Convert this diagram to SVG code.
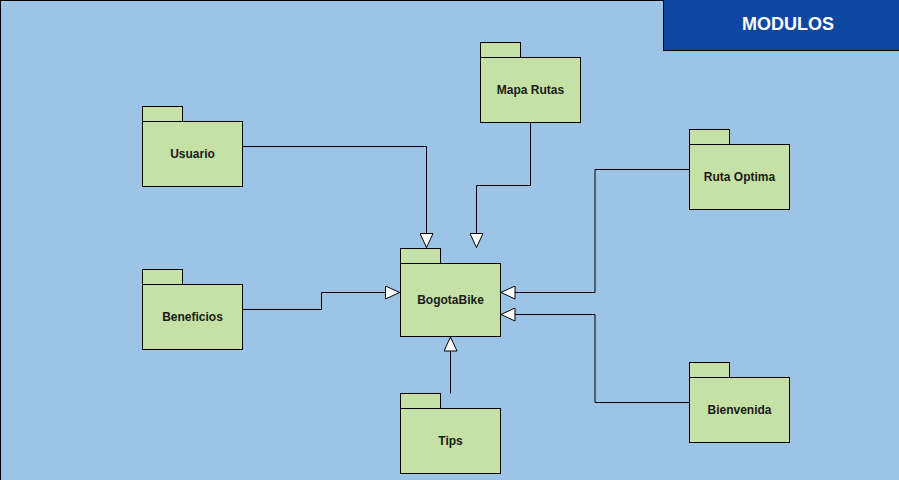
<svg xmlns="http://www.w3.org/2000/svg" width="899" height="480" viewBox="0 0 899 480">
<defs>
<style>
.pkg{fill:#C5E1A5;stroke:#000;stroke-width:1}
.lbl{font-family:"Liberation Sans",Arial,sans-serif;font-size:12px;font-weight:bold;fill:#1a1a1a;text-anchor:middle}
.edge{fill:none;stroke:#000;stroke-width:1;marker-end:url(#tri)}
</style>
<marker id="tri" viewBox="0 0 15 14" refX="15" refY="7" markerWidth="15" markerHeight="14" markerUnits="userSpaceOnUse" orient="auto">
<path d="M0.5,0.5 L14.5,7 L0.5,13.5 Z" fill="#fff" stroke="#000" stroke-width="1"/>
</marker>
</defs>
<rect x="0.5" y="0.5" width="900" height="481" fill="#9BC4E7" stroke="#000" stroke-width="1"/>
<g id="header">
<rect x="663.5" y="-1" width="240" height="51.5" fill="#0D47A1" stroke="#000" stroke-width="1"/>
<text x="788" y="30" font-family="Liberation Sans,Arial,sans-serif" font-size="18" font-weight="bold" fill="#fff" text-anchor="middle">MODULOS</text>
</g>
<g id="connectors">
<path class="edge" d="M242.5,146.5 H426.5 V248"/>
<path class="edge" d="M530.5,122.5 V185.5 H476.5 V248"/>
<path class="edge" d="M242.5,309.5 H321.5 V292.5 H400"/>
<path class="edge" d="M689.5,169.5 H595 V292.5 H500.5"/>
<path class="edge" d="M689.5,402.5 H595 V314.5 H500.5"/>
<path class="edge" d="M450.5,393.5 V336.5"/>
</g>
<g id="usuario">
<rect class="pkg" x="142.5" y="106.5" width="40" height="15"/>
<rect class="pkg" x="142.5" y="121.5" width="100" height="65"/>
<text class="lbl" x="192.5" y="158">Usuario</text>
</g>
<g id="mapa-rutas">
<rect class="pkg" x="480.5" y="42.5" width="40" height="15"/>
<rect class="pkg" x="480.5" y="57.5" width="100" height="65"/>
<text class="lbl" x="530.5" y="94">Mapa Rutas</text>
</g>
<g id="ruta-optima">
<rect class="pkg" x="689.5" y="129.5" width="40" height="15"/>
<rect class="pkg" x="689.5" y="144.5" width="100" height="65"/>
<text class="lbl" x="739.5" y="181">Ruta Optima</text>
</g>
<g id="beneficios">
<rect class="pkg" x="142.5" y="269.5" width="40" height="15"/>
<rect class="pkg" x="142.5" y="284.5" width="100" height="65"/>
<text class="lbl" x="192.5" y="321">Beneficios</text>
</g>
<g id="bogotabike">
<rect class="pkg" x="400.5" y="248.5" width="40" height="15"/>
<rect class="pkg" x="400.5" y="263.5" width="100" height="73"/>
<text class="lbl" x="450.5" y="304">BogotaBike</text>
</g>
<g id="bienvenida">
<rect class="pkg" x="689.5" y="362.5" width="40" height="15"/>
<rect class="pkg" x="689.5" y="377.5" width="100" height="65"/>
<text class="lbl" x="739.5" y="414">Bienvenida</text>
</g>
<g id="tips">
<rect class="pkg" x="400.5" y="393.5" width="40" height="15"/>
<rect class="pkg" x="400.5" y="408.5" width="100" height="65"/>
<text class="lbl" x="450.5" y="445">Tips</text>
</g>
</svg>
